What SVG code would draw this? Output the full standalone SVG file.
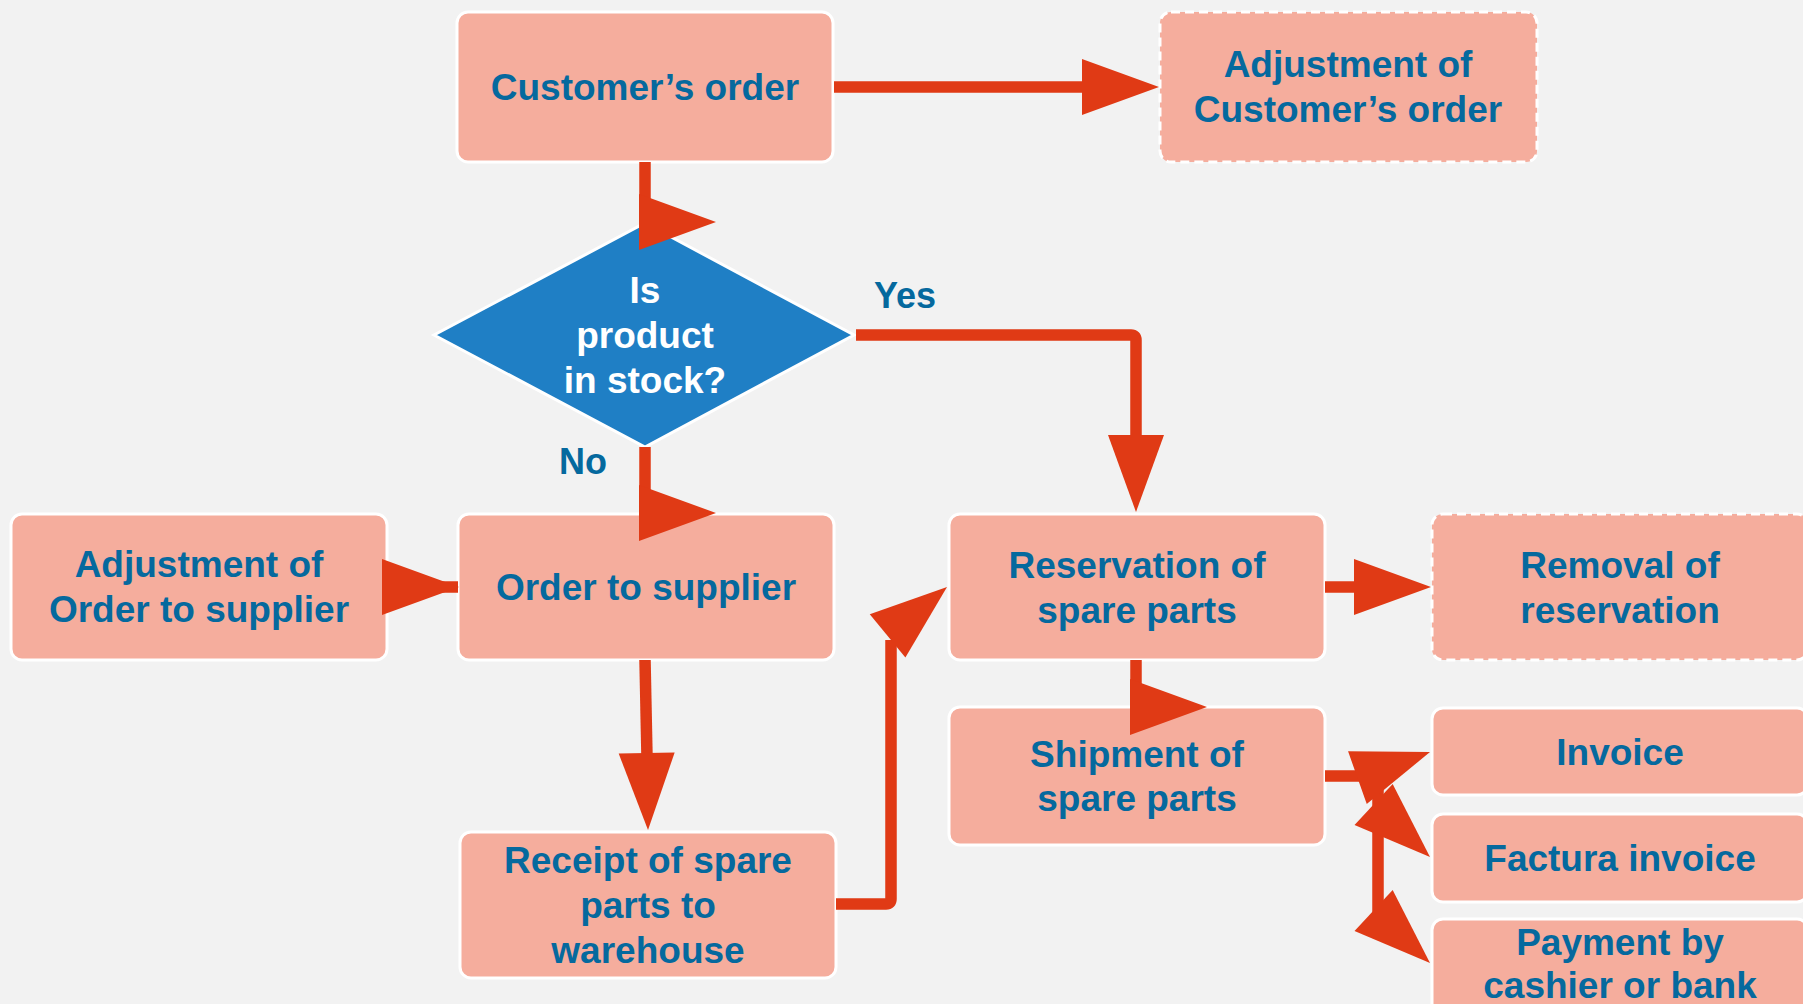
<svg xmlns="http://www.w3.org/2000/svg" xmlns:xlink="http://www.w3.org/1999/xlink" width="1803" height="1004" viewBox="0 0 1803 1004">
<style>
.box{fill:#f5ad9d;stroke:#ffffff;stroke-width:3}
.dash{stroke-dasharray:9 5}
.dia{fill:#1f7fc5;stroke:#ffffff;stroke-width:3}
.t{font-family:"Liberation Sans",Arial,sans-serif;font-weight:bold;font-size:37px;fill:#05699e;text-anchor:middle}
.tw{fill:#ffffff}
.lbl{font-family:"Liberation Sans",Arial,sans-serif;font-weight:bold;font-size:36px;fill:#05699e}
.ln{fill:none;stroke:#e03a15;stroke-width:11.5;stroke-linejoin:round}
.ah{fill:#e03a15}
</style>
<defs>
<path id="ah" d="M0,0 L-77,-28 L-77,28 Z"/>
</defs>
<rect width="1803" height="1004" fill="#f2f2f2"/>
<g id="n-customer-order">
<rect class="box" x="457" y="12" width="376" height="150" rx="11"/>
<text class="t" x="645" y="100">Customer’s order</text>
</g>
<g id="n-adjust-customer-order">
<rect class="box dash" x="1160" y="12" width="377" height="150" rx="11"/>
<text class="t" x="1348" y="77">Adjustment of</text>
<text class="t" x="1348" y="122">Customer’s order</text>
</g>
<g id="n-in-stock">
<polygon class="dia" points="645,223 854,335 645,447 434,335"/>
<text class="t tw" x="645" y="303">Is</text>
<text class="t tw" x="645" y="348">product</text>
<text class="t tw" x="645" y="393">in stock?</text>
</g>
<g id="n-adjust-order-supplier">
<rect class="box" x="11" y="514" width="376" height="146" rx="11"/>
<text class="t" x="199" y="577">Adjustment of</text>
<text class="t" x="199" y="622">Order to supplier</text>
</g>
<g id="n-order-supplier">
<rect class="box" x="458" y="514" width="376" height="146" rx="11"/>
<text class="t" x="646" y="600">Order to supplier</text>
</g>
<g id="n-reservation">
<rect class="box" x="949" y="514" width="376" height="146" rx="11"/>
<text class="t" x="1137" y="578">Reservation of</text>
<text class="t" x="1137" y="623">spare parts</text>
</g>
<g id="n-removal">
<rect class="box dash" x="1432" y="514" width="376" height="146" rx="11"/>
<text class="t" x="1620" y="578">Removal of</text>
<text class="t" x="1620" y="623">reservation</text>
</g>
<g id="n-shipment">
<rect class="box" x="949" y="707" width="376" height="138" rx="11"/>
<text class="t" x="1137" y="767">Shipment of</text>
<text class="t" x="1137" y="811">spare parts</text>
</g>
<g id="n-receipt">
<rect class="box" x="460" y="832" width="376" height="146" rx="11"/>
<text class="t" x="648" y="873">Receipt of spare</text>
<text class="t" x="648" y="918">parts to</text>
<text class="t" x="648" y="963">warehouse</text>
</g>
<g id="n-invoice">
<rect class="box" x="1432" y="708" width="376" height="87" rx="11"/>
<text class="t" x="1620" y="765">Invoice</text>
</g>
<g id="n-factura">
<rect class="box" x="1432" y="814" width="376" height="88" rx="11"/>
<text class="t" x="1620" y="871">Factura invoice</text>
</g>
<g id="n-payment">
<rect class="box" x="1432" y="919" width="376" height="100" rx="11"/>
<text class="t" x="1620" y="955">Payment by</text>
<text class="t" x="1620" y="998">cashier or bank</text>
</g>
<g id="connectors">
<path class="ln" d="M834,87 H1090"/>
<use class="ah" href="#ah" transform="translate(1159,87)"/>
<path class="ln" d="M645,162 V222"/>
<use class="ah" href="#ah" transform="translate(716,222)"/>
<path class="ln" d="M856,335 H1131 Q1136,335 1136,340 V440"/>
<use class="ah" href="#ah" transform="translate(1136,512) rotate(90)"/>
<path class="ln" d="M645,447 V513"/>
<use class="ah" href="#ah" transform="translate(716,513)"/>
<path class="ln" d="M388,587 H458"/>
<use class="ah" href="#ah" transform="translate(459,587)"/>
<path class="ln" d="M645,660 L647,757"/>
<use class="ah" href="#ah" transform="translate(648,830) rotate(89)"/>
<path class="ln" d="M836,904 H886 Q891,904 891,899 V640"/>
<use class="ah" href="#ah" transform="translate(947,587) rotate(-39.5)"/>
<path class="ln" d="M1325,587 H1360"/>
<use class="ah" href="#ah" transform="translate(1431,587)"/>
<path class="ln" d="M1136,660 V707"/>
<use class="ah" href="#ah" transform="translate(1207,707)"/>
<path class="ln" d="M1325,776 H1378 V912"/>
<use class="ah" href="#ah" transform="translate(1430,752) rotate(-19.5)"/>
<use class="ah" href="#ah" transform="translate(1430,857) rotate(42.9)"/>
<use class="ah" href="#ah" transform="translate(1430,963) rotate(42.9)"/>
<text class="lbl" x="874" y="308">Yes</text>
<text class="lbl" x="559" y="474">No</text>
</g>
</svg>
